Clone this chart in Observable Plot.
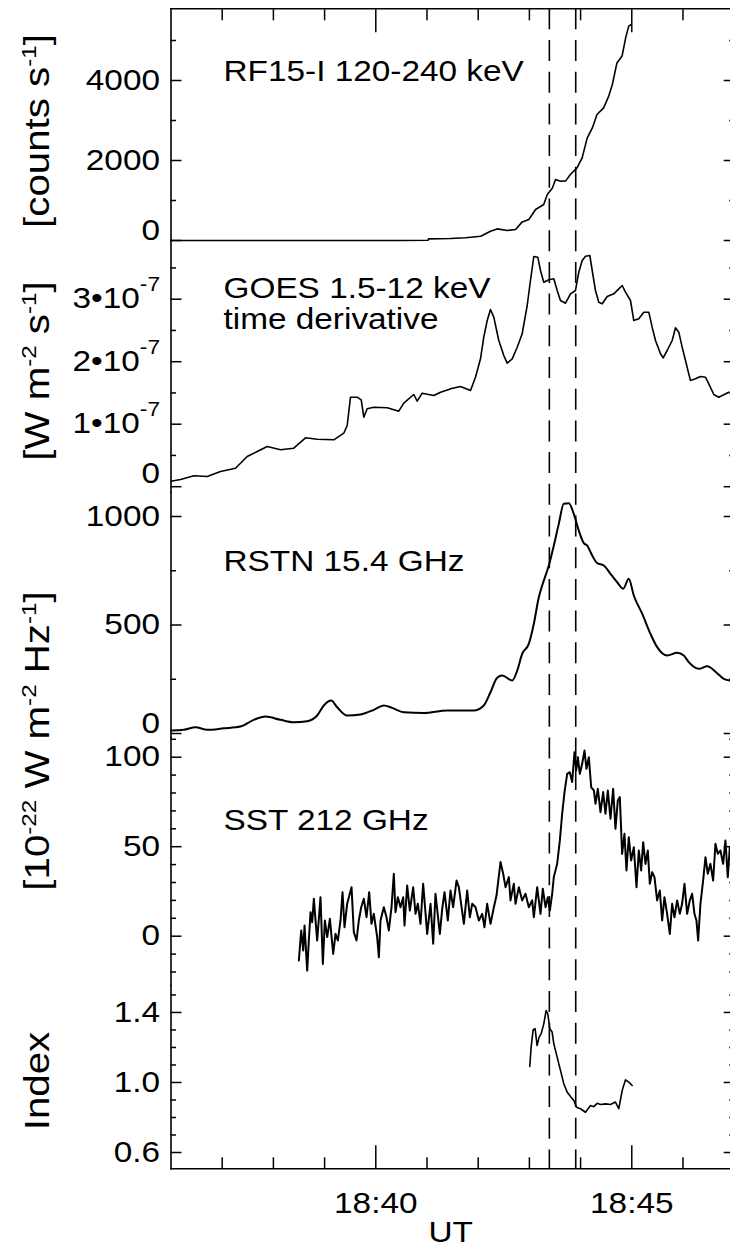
<!DOCTYPE html>
<html><head><meta charset="utf-8">
<script src="https://cdn.jsdelivr.net/npm/d3@7"></script>
<script src="https://cdn.jsdelivr.net/npm/@observablehq/plot@0.6"></script>
<style>
html,body{margin:0;padding:0;background:#fff;overflow:hidden;}
#fig{position:relative;width:730px;height:1250px;font-family:"Liberation Sans",Arial,Helvetica,sans-serif;color:#000;overflow:hidden;}
#fig svg{position:absolute;left:0;overflow:visible;}
.unit{position:absolute;font-size:35px;line-height:1;white-space:nowrap;transform:translate(-50%,-50%) rotate(-90deg) scaleX(1.15);}
.unit sup{font-size:0.6em;vertical-align:baseline;position:relative;top:-0.62em;line-height:0;}
</style></head><body><div id="fig"></div>
<script>
// ---------- data (time in minutes after 18:00 UT) ----------
const rfSeries = [[36.0,0],[40.48,0],[41.02,5],[41.03,40],[41.46,50],[41.75,70],[42.05,107],[42.24,230],[42.37,290],[42.57,250],[42.73,275],[42.86,465],[42.99,525],[43.12,775],[43.28,900],[43.35,1150],[43.45,1315],[43.51,1525],[43.61,1480],[43.71,1490],[43.80,1650],[43.93,1815],[44.03,2065],[44.13,2565],[44.23,2815],[44.32,3150],[44.45,3315],[44.55,3610],[44.62,3900],[44.71,4440],[44.81,4610],[44.88,5065],[44.94,5360],[44.99,5400]];

// GOES derivative in units of 1e-7 W m^-2 s^-1
const goesSeries = [[36.0,0.088],[36.186,0.115],[36.445,0.174],[36.707,0.163],[36.967,0.243],[37.26,0.296],[37.488,0.483],[37.684,0.563],[37.879,0.643],[38.139,0.59],[38.398,0.616],[38.627,0.782],[38.855,0.76],[39.18,0.75],[39.375,0.856],[39.441,0.979],[39.506,1.432],[39.637,1.432],[39.715,1.39],[39.766,1.112],[39.832,1.246],[39.961,1.272],[40.223,1.262],[40.449,1.208],[40.547,1.336],[40.742,1.475],[40.809,1.368],[40.906,1.496],[41.133,1.459],[41.264,1.512],[41.426,1.555],
[41.459,1.566],[41.654,1.603],[41.85,1.539],[41.947,1.752],[42.045,2.046],[42.109,2.392],[42.176,2.659],[42.24,2.835],[42.305,2.712],[42.402,2.339],[42.5,2.099],[42.566,1.976],[42.664,2.046],[42.762,2.232],[42.859,2.446],[42.957,2.899],[43.021,3.299],[43.086,3.683],[43.164,3.672],[43.217,3.459],[43.281,3.272],[43.379,3.31],[43.477,3.326],[43.543,3.139],[43.607,2.979],[43.705,2.936],[43.803,3.086],[43.9,3.139],[43.965,3.432],[44.031,3.619],[44.096,3.688],[44.18,3.699],[44.227,3.459],[44.291,3.139],[44.355,2.952],[44.422,2.926],[44.52,3.043],[44.648,3.086],[44.746,3.166],[44.813,3.219],[44.877,3.112],[44.975,2.979],[45.039,2.659],[45.137,2.686],[45.234,2.792],[45.332,2.792],[45.398,2.552],[45.463,2.339],[45.561,2.126],[45.613,2.062],[45.691,2.179],[45.789,2.339],[45.854,2.542],[45.918,2.472],[45.984,2.232],[46.049,2.019],[46.113,1.806],[46.146,1.699],[46.244,1.726],[46.342,1.763],[46.439,1.752],[46.504,1.646],[46.602,1.475],[46.699,1.432],[46.797,1.47],[46.895,1.512]];

const rstnSeries = [[36.0,14],[36.25,17],[36.479,29],[36.707,17],[37.031,24],[37.357,32],[37.617,63],[37.846,78],[38.139,63],[38.398,52],[38.66,57],[38.855,83],[38.984,129],[39.129,152],[39.246,121],[39.441,83],[39.701,88],[39.961,109],[40.156,129],[40.32,118],[40.547,98],[40.938,95],[41.395,106],[41.914,106],[42.109,129],[42.24,190],[42.371,257],[42.469,267],[42.664,244],[42.762,290],[42.859,367],[42.988,413],[43.086,505],[43.184,628],[43.25,682],[43.379,774],[43.477,866],[43.574,966],[43.672,1059],[43.77,1061],[43.867,1012],[43.965,935],[44.063,877],[44.129,866],[44.227,820],[44.324,785],[44.453,774],[44.584,736],[44.715,697],[44.832,667],[44.941,713],[45.039,636],[45.203,552],[45.365,459],[45.496,398],[45.691,359],[45.887,372],[46.016,359],[46.113,329],[46.309,298],[46.473,310],[46.668,278],[46.797,252],[46.928,244]];

const sstSeries = [[38.497,-13.6],[38.543,3.2],[38.582,-8.0],[38.608,6.0],[38.66,-19.2],[38.692,-2.4],[38.725,13.4],[38.758,7.8],[38.79,20.9],[38.823,8.8],[38.855,-2.4],[38.92,21.8],[38.966,-15.5],[39.005,8.8],[39.051,-0.5],[39.103,9.7],[39.168,-9.9],[39.213,1.3],[39.259,-2.4],[39.311,8.8],[39.35,24.6],[39.389,5.0],[39.441,18.1],[39.526,27.4],[39.571,2.3],[39.623,-2.4],[39.669,8.8],[39.715,16.2],[39.767,20.9],[39.819,10.6],[39.871,24.6],[39.916,6.9],[39.962,12.5],[40.027,-0.5],[40.06,-11.7],[40.092,8.8],[40.157,16.2],[40.209,10.6],[40.255,3.2],[40.307,16.2],[40.352,34.9],[40.385,13.4],[40.431,21.8],[40.483,16.2],[40.535,21.8],[40.561,6.0],[40.613,28.3],[40.665,14.3],[40.73,27.4],[40.776,12.5],[40.821,18.1],[40.873,6.9],[40.925,29.3],[41.004,1.3],[41.069,18.1],[41.121,-4.2],[41.166,23.7],[41.251,1.3],[41.297,15.3],[41.342,24.6],[41.407,8.8],[41.459,25.5],[41.511,16.2],[41.577,31.1],[41.622,27.4],[41.72,6.9],[41.785,25.5],[41.837,10.6],[41.883,18.1],[41.948,16.2],[42.013,8.8],[42.078,12.5],[42.123,5.0],[42.175,18.1],[42.241,6.9],[42.306,16.2],[42.358,22.7],[42.436,41.4],[42.488,34.9],[42.534,27.4],[42.599,33.0],[42.631,20.0],[42.696,29.3],
[42.729,18.1],[42.794,27.4],[42.859,20.0],[42.924,23.7],[42.989,16.2],[43.054,20.0],[43.087,10.6],[43.152,27.4],[43.217,12.5],[43.262,26.5],[43.315,16.2],[43.36,21.8],[43.399,14.3],[43.445,23.7],[43.477,33.0],[43.542,40.4],[43.595,53.5],[43.64,68.4],[43.686,80.5],[43.738,90.7],[43.79,91.6],[43.835,86.1],[43.881,102.8],[43.914,92.6],[43.946,100.0],[43.985,90.7],[44.031,96.3],[44.076,103.7],[44.115,93.5],[44.161,100.0],[44.207,83.2],[44.259,81.4],[44.291,74.0],[44.337,82.3],[44.389,69.3],[44.441,80.5],[44.486,68.4],[44.532,81.4],[44.584,65.6],[44.636,82.3],[44.681,60.0],[44.727,75.8],[44.766,77.7],[44.811,46.0],[44.857,57.2],[44.896,36.7],[44.941,55.3],[44.987,42.3],[45.04,49.7],[45.092,27.4],[45.137,47.9],[45.183,36.7],[45.222,52.5],[45.268,40.4],[45.313,47.9],[45.352,29.3],[45.398,35.8],[45.443,33.0],[45.495,20.0],[45.547,25.5],[45.593,8.8],[45.638,21.8],[45.69,12.5],[45.743,1.3],[45.788,18.1],[45.834,10.6],[45.886,20.0],[45.938,12.5],[45.983,18.1],[46.029,29.3],[46.081,12.5],[46.133,20.0],[46.179,23.7],[46.224,12.5],[46.263,8.8],[46.296,-2.4],[46.341,18.1],[46.393,31.1],[46.439,44.1],[46.484,34.9],[46.536,40.4],[46.589,31.1],[46.634,51.6],[46.68,46.0],[46.732,47.9],[46.784,40.4],[46.829,53.5],[46.875,33.0],[46.914,49.7]];

const indexSeries = [[43.008,1.091],[43.034,1.202],[43.073,1.301],[43.112,1.307],[43.151,1.211],[43.19,1.259],[43.229,1.278],[43.281,1.335],[43.327,1.411],[43.36,1.392],[43.399,1.307],[43.444,1.288],[43.477,1.221],[43.542,1.145],[43.607,1.069],[43.672,0.993],[43.737,0.945],[43.802,0.92],[43.868,0.897],[43.919,0.859],[43.998,0.85],[44.095,0.83],[44.193,0.868],[44.258,0.862],[44.323,0.881],[44.388,0.874],[44.486,0.878],[44.584,0.874],[44.681,0.888],[44.746,0.85],[44.812,0.954],[44.877,1.015],[44.942,1.002],[45.007,0.983]];

// vertical dashed marker times
const dashTimes = [43.39, 43.905];

// axis ticks
const xMajorTicks = [40, 45];
const xMinorTicks = [37, 38, 39, 41, 42, 43, 44, 46];
const rfMajor = [0, 2000, 4000], rfMinor = [1000, 3000, 5000];
const goesMajor = [0, 1, 2, 3], goesMinor = [0.5, 1.5, 2.5, 3.5];
const rstnMajor = [0, 500, 1000], rstnMinor = [250, 750];
const sstMajor = [0, 50, 100], sstMinor = [-20, -10, 10, 20, 30, 40, 60, 70, 80, 90, 110];
const idxMajor = [0.6, 1.0, 1.4], idxMinor = [0.7, 0.8, 0.9, 1.1, 1.2, 1.3, 1.5];

const panelLabels = ["RF15-I 120-240 keV", "GOES 1.5-12 keV", "time derivative", "RSTN 15.4 GHz", "SST 212 GHz"];
const unitLabels = ["[counts s<sup>-1</sup>]", "[W m<sup>-2</sup> s<sup>-1</sup>]", "[10<sup>-22</sup> W m<sup>-2</sup> Hz<sup>-1</sup>]", "Index"];

// ---------- rendering ----------
const T0 = Date.UTC(2015, 0, 1, 18, 0, 0);
const toDate = m => new Date(T0 + m * 60000);
const xDomain = [toDate(36), toDate(46.928)];
const FONT = '"Liberation Sans", Arial, Helvetica, sans-serif';
const SX = 1.15, FS = 29, DASH = 31.7;
const fig = document.getElementById("fig");
const NS = "http://www.w3.org/2000/svg";

function widen(svg) {
  svg.querySelectorAll("text").forEach(t => {
    const s = t.textContent;
    if (s.includes("|")) {
      const [a, b] = s.split("|");
      t.textContent = "";
      const t1 = document.createElementNS(NS, "tspan"); t1.textContent = a + "\u202210";
      const t2 = document.createElementNS(NS, "tspan"); t2.textContent = b;
      t2.setAttribute("dy", "-17"); t2.setAttribute("font-size", "0.68em");
      t.append(t1, t2);
    }
    let tr = t.getAttribute("transform") || "";
    const x = t.getAttribute("x");
    if (x !== null && x !== "" && !isNaN(+x) && +x !== 0) {
      tr += ` translate(${+x},0)`;
      t.removeAttribute("x");
    }
    t.setAttribute("transform", (tr + ` scale(${SX},1)`).trim());
  });
}

function addPanel(p) {
  const mt = p.first ? p.top : 0;
  const mb = p.last ? 81.7 : 0;
  const height = (p.bottom - p.top) + mt + mb;
  const off = ((p.top - 8.3) % DASH + DASH) % DASH;
  const marks = [];
  marks.push(Plot.frame({anchor: "left", strokeWidth: 1.6}));
  marks.push(Plot.axisY(p.majors, {anchor: "left", tickSize: -11, fill: "none", strokeWidth: 1.5}));
  marks.push(Plot.axisY(p.minors, {anchor: "left", tickSize: -5.5, fill: "none", strokeWidth: 1.5}));
  marks.push(Plot.axisY(p.majors, {anchor: "right", tickSize: -7.3, fill: "none", strokeWidth: 1.5}));
  marks.push(Plot.axisY(p.minors, {anchor: "right", tickSize: -1.8, fill: "none", strokeWidth: 1.5}));
  const main = p.zeroDy ? p.majors.filter(v => v !== 0) : p.majors;
  marks.push(Plot.axisY(main, {anchor: "left", tickSize: 0, tickPadding: 11, tickFormat: p.fmt, fontSize: FS, label: null}));
  if (p.zeroDy) marks.push(Plot.axisY([0], {anchor: "left", tickSize: 0, tickPadding: 11, tickFormat: () => "0", fontSize: FS, dy: p.zeroDy, label: null}));
  if (p.first) {
    marks.push(Plot.frame({anchor: "top", strokeWidth: 1.6}));
    marks.push(Plot.axisX(xMinorTicks.map(toDate), {anchor: "top", tickSize: -11, fill: "none", strokeWidth: 1.5}));
    marks.push(Plot.axisX(xMajorTicks.map(toDate), {anchor: "top", tickSize: -23, fill: "none", strokeWidth: 1.5}));
  }
  if (p.last) {
    marks.push(Plot.frame({anchor: "bottom", strokeWidth: 1.6}));
    marks.push(Plot.axisX(xMinorTicks.map(toDate), {anchor: "bottom", tickSize: -11, fill: "none", strokeWidth: 1.5}));
    marks.push(Plot.axisX(xMajorTicks.map(toDate), {anchor: "bottom", tickSize: -23, fill: "none", strokeWidth: 1.5}));
    marks.push(Plot.axisX(xMajorTicks.map(toDate), {anchor: "bottom", tickSize: 0, tickPadding: 24, tickFormat: d3.utcFormat("%H:%M"), fontSize: FS, label: null}));
    marks.push(Plot.text(["UT"], {text: d => d, frameAnchor: "bottom", dy: 53, lineAnchor: "top", fontSize: FS}));
  }
  marks.push(Plot.ruleX(dashTimes.map(toDate), {stroke: "black", strokeWidth: 1.6, strokeDasharray: "21,10.7", strokeDashoffset: off}));
  marks.push(Plot.line(p.series, {x: d => toDate(d[0]), y: d => d[1], stroke: "black", strokeWidth: p.sw || 1.6, curve: p.curve || "linear"}));
  for (const [txt, dy] of p.labels) {
    marks.push(Plot.text([txt], {text: d => d, frameAnchor: "top-left", dx: 52.5, dy, textAnchor: "start", lineAnchor: "bottom", fontSize: FS}));
  }
  const svg = Plot.plot({
    width: 730, height,
    marginLeft: 170.5, marginRight: 0, marginTop: mt, marginBottom: mb,
    x: {type: "utc", domain: xDomain, axis: null},
    y: {domain: p.domain, axis: null},
    style: {fontFamily: FONT, fontSize: FS + "px", color: "black", background: "transparent", overflow: "visible", maxWidth: "none"},
    marks
  });
  svg.style.top = (p.top - mt) + "px";
  widen(svg);
  fig.appendChild(svg);
}

addPanel({top: 8.3, bottom: 240, domain: [0, 5792.5], majors: rfMajor, minors: rfMinor, zeroDy: -10, fmt: d3.format("d"), series: rfSeries, labels: [[panelLabels[0], 71.7]], first: true});
addPanel({top: 240, bottom: 492, domain: [-0.0928, 3.939], majors: goesMajor, minors: goesMinor, zeroDy: -13, fmt: v => `${v}|-7`, series: goesSeries, labels: [[panelLabels[1], 57.3], [panelLabels[2], 88.3]]});
addPanel({top: 492, bottom: 737, domain: [-18.4, 1110.6], majors: rstnMajor, minors: rstnMinor, zeroDy: -10, fmt: d3.format("d"), series: rstnSeries, sw: 2, curve: "monotone-x", labels: [[panelLabels[3], 78.7]]});
addPanel({top: 737, bottom: 985, domain: [-27.54, 111.0], majors: sstMajor, minors: sstMinor, zeroDy: 0, fmt: d3.format("d"), series: sstSeries, sw: 2, labels: [[panelLabels[4], 92.3]]});
addPanel({top: 985, bottom: 1168.3, domain: [0.5069, 1.554], majors: idxMajor, minors: idxMinor, zeroDy: 0, fmt: d3.format(".1f"), series: indexSeries, labels: [], last: true});

const unitY = [131, 371, 741, 1081];
unitLabels.forEach((h, i) => {
  const d = document.createElement("div");
  d.className = "unit";
  d.innerHTML = h;
  d.style.left = "36px";
  d.style.top = unitY[i] + "px";
  fig.appendChild(d);
});
</script></body></html>
